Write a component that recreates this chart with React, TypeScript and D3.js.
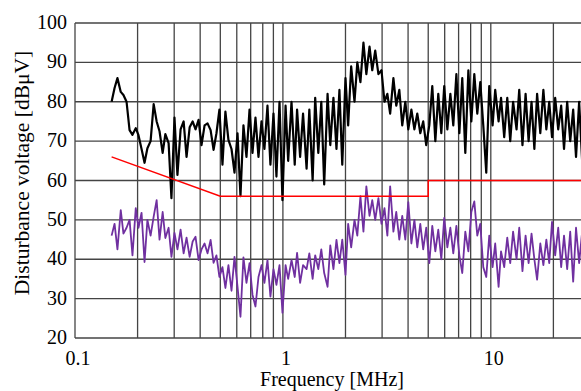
import React, { useEffect, useRef } from 'react';
import * as d3 from 'd3';

// sweep frequencies (MHz), shared by both traces
const freqMHz = [
    0.150, 0.155, 0.160, 0.166, 0.171, 0.177, 0.183, 0.189, 0.196, 0.202,
    0.209, 0.216, 0.223, 0.231, 0.239, 0.247, 0.255, 0.264, 0.272, 0.282,
    0.291, 0.301, 0.311, 0.322, 0.333, 0.344, 0.356, 0.368, 0.380, 0.393,
    0.406, 0.420, 0.434, 0.449, 0.464, 0.479, 0.495, 0.512, 0.529, 0.547,
    0.566, 0.585, 0.605, 0.625, 0.646, 0.668, 0.691, 0.714, 0.738, 0.763,
    0.789, 0.815, 0.843, 0.871, 0.901, 0.931, 0.963, 0.995, 1.03, 1.06,
    1.10, 1.14, 1.17, 1.21, 1.25, 1.30, 1.34, 1.39, 1.43, 1.48,
    1.53, 1.58, 1.64, 1.69, 1.75, 1.81, 1.87, 1.93, 2.00, 2.06,
    2.13, 2.21, 2.28, 2.36, 2.44, 2.52, 2.61, 2.69, 2.78, 2.88,
    2.98, 3.08, 3.18, 3.28, 3.40, 3.51, 3.63, 3.75, 3.88, 4.01,
    4.15, 4.29, 4.43, 4.58, 4.73, 4.89, 5.06, 5.23, 5.41, 5.59,
    5.78, 5.97, 6.18, 6.39, 6.60, 6.83, 7.06, 7.29, 7.54, 7.80,
    8.06, 8.33, 8.61, 8.90, 9.20, 9.51, 9.83, 10.2, 10.5, 10.9,
    11.2, 11.6, 12.0, 12.4, 12.8, 13.3, 13.7, 14.2, 14.7, 15.2,
    15.7, 16.2, 16.7, 17.3, 17.9, 18.5, 19.1, 19.7, 20.4, 21.1,
    21.8, 22.5, 23.3, 24.1, 24.9, 25.7, 26.6, 27.5, 28.4, 29.4,
];

// peak trace (black), dBuV
const peakDb = [
    80, 83.5, 86, 82.5, 81.7, 80, 72.8, 71.6, 73.3, 71.5,
    68, 64.5, 68.2, 70, 79.4, 75, 72.5, 67, 71.8, 69.5,
    55.5, 76, 61.4, 73, 75, 66, 73.5, 75, 73, 75.4,
    69, 74, 74.5, 72.8, 67.8, 72, 78, 64, 77.5, 70.3,
    68, 62, 72, 56, 74, 66, 78, 67, 76, 66,
    75, 68, 79, 64, 77, 61, 80, 55, 79, 65,
    80, 64, 78, 66, 77, 63, 78, 60, 81, 67,
    80, 59, 82, 69, 81, 68, 83, 64, 86, 74,
    89, 80, 90, 85, 95, 87, 94, 88, 93, 87,
    88, 80, 82, 77, 86, 79, 83, 74, 80, 73,
    78, 73, 77, 72, 75, 69, 74, 84, 70, 82,
    72, 84, 73, 82, 74, 87, 72, 86, 67, 88,
    75, 87, 77, 85, 74, 62, 84, 74, 83, 75,
    81, 71, 81, 70, 80, 73, 83, 69, 82, 70,
    80, 68, 82, 72, 83, 73, 80, 71, 81, 73,
    79, 68, 80, 70, 78, 66, 80, 65, 78, 70,
];

// average trace (purple), dBuV
const avgDb = [
    46, 49, 42.5, 52.5, 46.5, 48, 50, 41, 53, 48,
    51.8, 39.3, 50, 46, 50.8, 55, 45, 52, 45.4, 48,
    40.6, 46.7, 42.5, 47.5, 41.5, 45.5, 40.6, 44.5, 45.7, 39.8,
    42.5, 44, 41.5, 44.9, 39.1, 41, 35.5, 38, 32.7, 38.5,
    32, 40.6, 33, 25.4, 40.5, 34, 39, 31, 28, 35.5,
    38.5, 34, 39.8, 30.5, 37.5, 33.5, 38.5, 26.4, 38.5, 35,
    39.8, 35.5, 41.6, 34, 38.5, 37.5, 41.5, 35, 41, 37.5,
    42.5, 36.5, 33, 43.5, 37.5, 44.9, 39, 45, 36, 49,
    43, 50, 46, 56, 47, 58.5, 51, 55, 50, 55.5,
    49, 53, 46, 58.5, 47, 52, 45, 51, 45, 54.5,
    44, 50, 43, 49, 42.5, 48, 39, 48.5, 42, 47.5,
    40, 50.5, 43, 48, 41.5, 48.5, 41, 36.5, 47, 42,
    52, 54.7, 46, 49, 38, 35.5, 46, 38, 44, 33,
    42, 38, 45.5, 39, 47, 40, 48, 37, 46, 39,
    46.5, 40, 34.8, 44, 38.5, 45, 39, 49.5, 41, 48,
    38, 46, 37.5, 47, 34.3, 48, 39, 47, 40, 45,
];

// limit line (red)
const limitFreq = [0.15, 0.5, 5, 5, 30];
const limitDb = [66, 56, 56, 60, 60];

const xGrid = [0.1, 0.2, 0.3, 0.4, 0.5, 0.6, 0.7, 0.8, 0.9, 1, 2, 3, 4, 5, 6, 7, 8, 9, 10, 20, 30];
const xTickLabels = [0.1, 1, 10];
const yTicks = [20, 30, 40, 50, 60, 70, 80, 90, 100];

const W = 581;
const H = 391;

export default function App() {
    const svgRef = useRef<SVGSVGElement | null>(null);

    useEffect(() => {
        if (!svgRef.current) return;
        const svg = d3.select(svgRef.current);
        svg.selectAll('*').remove();

        const left = 75, top = 23, bottom = 338;
        const x = d3.scaleLog().domain([0.1, 30]).range([left, 590]);
        const y = d3.scaleLinear().domain([20, 100]).range([bottom, top]);
        const font = "'Liberation Serif', 'Times New Roman', serif";

        // grid
        const grid = svg.append('g').attr('stroke', '#444').attr('stroke-width', 1.3);
        grid.selectAll('.vg').data(xGrid).enter().append('line')
            .attr('x1', d => x(d)).attr('x2', d => x(d))
            .attr('y1', top).attr('y2', bottom);
        grid.selectAll('.hg').data(yTicks).enter().append('line')
            .attr('x1', left).attr('x2', W + 10)
            .attr('y1', d => y(d)).attr('y2', d => y(d));

        const clip = svg.append('defs').append('clipPath').attr('id', 'plot-clip');
        clip.append('rect').attr('x', left).attr('y', top).attr('width', 600).attr('height', bottom - top);

        const line = d3.line<[number, number]>()
            .x(d => x(d[0]))
            .y(d => y(d[1]));

        const avgPts = freqMHz.map((f, i) => [f, avgDb[i]] as [number, number]);
        const peakPts = freqMHz.map((f, i) => [f, peakDb[i]] as [number, number]);
        const limPts = limitFreq.map((f, i) => [f, limitDb[i]] as [number, number]);

        const traces = svg.append('g').attr('clip-path', 'url(#plot-clip)');
        traces.append('path').datum(avgPts)
            .attr('fill', 'none').attr('stroke', '#7030a0').attr('stroke-width', 1.8)
            .attr('stroke-linejoin', 'round').attr('d', line);
        traces.append('path').datum(peakPts)
            .attr('fill', 'none').attr('stroke', '#000').attr('stroke-width', 2.2)
            .attr('stroke-linejoin', 'round').attr('d', line);
        traces.append('path').datum(limPts)
            .attr('fill', 'none').attr('stroke', '#ff0000').attr('stroke-width', 1.5)
            .attr('d', line);

        // y tick labels
        svg.append('g').selectAll('text').data(yTicks).enter().append('text')
            .attr('x', 67).attr('y', d => y(d)).attr('dy', '0.3em')
            .attr('text-anchor', 'end')
            .style('font-family', font).style('font-size', '20px')
            .text(d => d);

        // x tick labels
        svg.append('g').selectAll('text').data(xTickLabels).enter().append('text')
            .attr('x', d => x(d) + 3).attr('y', 365)
            .attr('text-anchor', 'middle')
            .style('font-family', font).style('font-size', '20px')
            .text(d => d);

        svg.append('text')
            .attr('x', 332).attr('y', 386)
            .attr('text-anchor', 'middle')
            .style('font-family', font).style('font-size', '20px')
            .text('Frequency [MHz]');

        svg.append('text')
            .attr('transform', `translate(29,173) rotate(-90)`)
            .attr('text-anchor', 'middle')
            .style('font-family', font).style('font-size', '21.5px')
            .text('Disturbance voltage [dBμV]');
    }, []);

    return (
        <svg ref={svgRef} width={W} height={H}
            style={{ position: 'absolute', left: 0, top: 0, background: '#fff' }} />
    );
}
